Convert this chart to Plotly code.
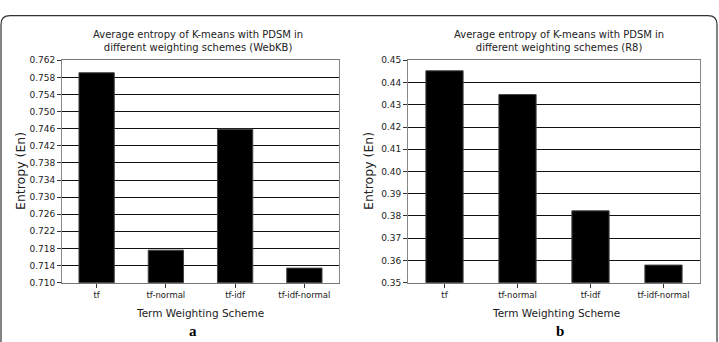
import plotly.graph_objects as go

categories = ["tf", "tf-normal", "tf-idf", "tf-idf-normal"]
webkb_values = [0.7591, 0.7176, 0.7459, 0.7134]
r8_values = [0.4453, 0.4346, 0.3823, 0.3579]

webkb_title = "Average entropy of K-means with PDSM in<br>different weighting schemes (WebKB)"
r8_title = "Average entropy of K-means with PDSM in<br>different weighting schemes (R8)"
x_title = "Term Weighting Scheme"
y_title = "Entropy (En)"
panel_labels = ["a", "b"]

W, H = 719, 342

def px(x):
    return x / W

def py(y):
    return 1 - y / H

FONT = "DejaVu Sans"

fig = go.Figure()
fig.add_trace(go.Bar(x=categories, y=webkb_values, marker=dict(color="black", line=dict(color="#444", width=1)),
                     xaxis="x", yaxis="y", showlegend=False))
fig.add_trace(go.Bar(x=categories, y=r8_values, marker=dict(color="black", line=dict(color="#444", width=1)),
                     xaxis="x2", yaxis="y2", showlegend=False))

ydom = [py(286), py(57)]
common_x = dict(showgrid=False, ticks="outside", ticklen=4, tickcolor="#333",
                showline=True, linecolor="#777", mirror=True, linewidth=1,
                tickfont=dict(family=FONT, size=8.5, color="#222"))
common_y = dict(showgrid=True, gridcolor="#111", gridwidth=1, ticks="outside", ticklen=4, tickcolor="#333",
                showline=True, linecolor="#888", mirror=True, linewidth=1, zeroline=False,
                tickfont=dict(family=FONT, size=9, color="#222"))

fig.update_layout(
    width=W, height=H,
    margin=dict(l=0, r=0, t=0, b=0),
    paper_bgcolor="white", plot_bgcolor="white",
    bargap=0.49,
    xaxis=dict(domain=[px(62), px(339)], anchor="y", **common_x),
    yaxis=dict(domain=ydom, anchor="x", range=[0.710, 0.762], dtick=0.004, tick0=0.710,
               tickformat=".3f", **common_y),
    xaxis2=dict(domain=[px(408), px(700)], anchor="y2", **common_x),
    yaxis2=dict(domain=ydom, anchor="x2", range=[0.35, 0.45], dtick=0.01, tick0=0.35,
                tickformat=".2f", **common_y),
)

ann = []
for cx, t in [(198, webkb_title), (559, r8_title)]:
    ann.append(dict(x=px(cx), y=py(37), xref="paper", yref="paper", text=t, showarrow=False,
                    font=dict(family=FONT, size=10, color="#222"), xanchor="center", yanchor="middle"))
for cx in [200, 556]:
    ann.append(dict(x=px(cx), y=py(317), xref="paper", yref="paper", text=x_title, showarrow=False,
                    font=dict(family=FONT, size=10.5, color="#222"), xanchor="center", yanchor="middle"))
for cx in [20, 368]:
    ann.append(dict(x=px(cx), y=py(171), xref="paper", yref="paper", text=y_title, showarrow=False,
                    textangle=-90, font=dict(family=FONT, size=12.5, color="#222"),
                    xanchor="center", yanchor="middle"))
for cx, lab in zip([193, 560], panel_labels):
    ann.append(dict(x=px(cx), y=py(336), xref="paper", yref="paper", text="<b>" + lab + "</b>",
                    showarrow=False, font=dict(family="Liberation Serif", size=15, color="black"),
                    xanchor="center", yanchor="middle"))
fig.update_layout(annotations=ann)

# rounded frame
L, R, T, B, r = 1, 717, 11, 360, 9
path = (f"M {px(L)},{py(T + r)} Q {px(L)},{py(T)} {px(L + r)},{py(T)} "
        f"L {px(R - r)},{py(T)} Q {px(R)},{py(T)} {px(R)},{py(T + r)} "
        f"L {px(R)},{py(B)} L {px(L)},{py(B)} Z")
fig.add_shape(type="path", path=path, xref="paper", yref="paper",
              line=dict(color="#333", width=1.2))

fig.write_html("out.html")
